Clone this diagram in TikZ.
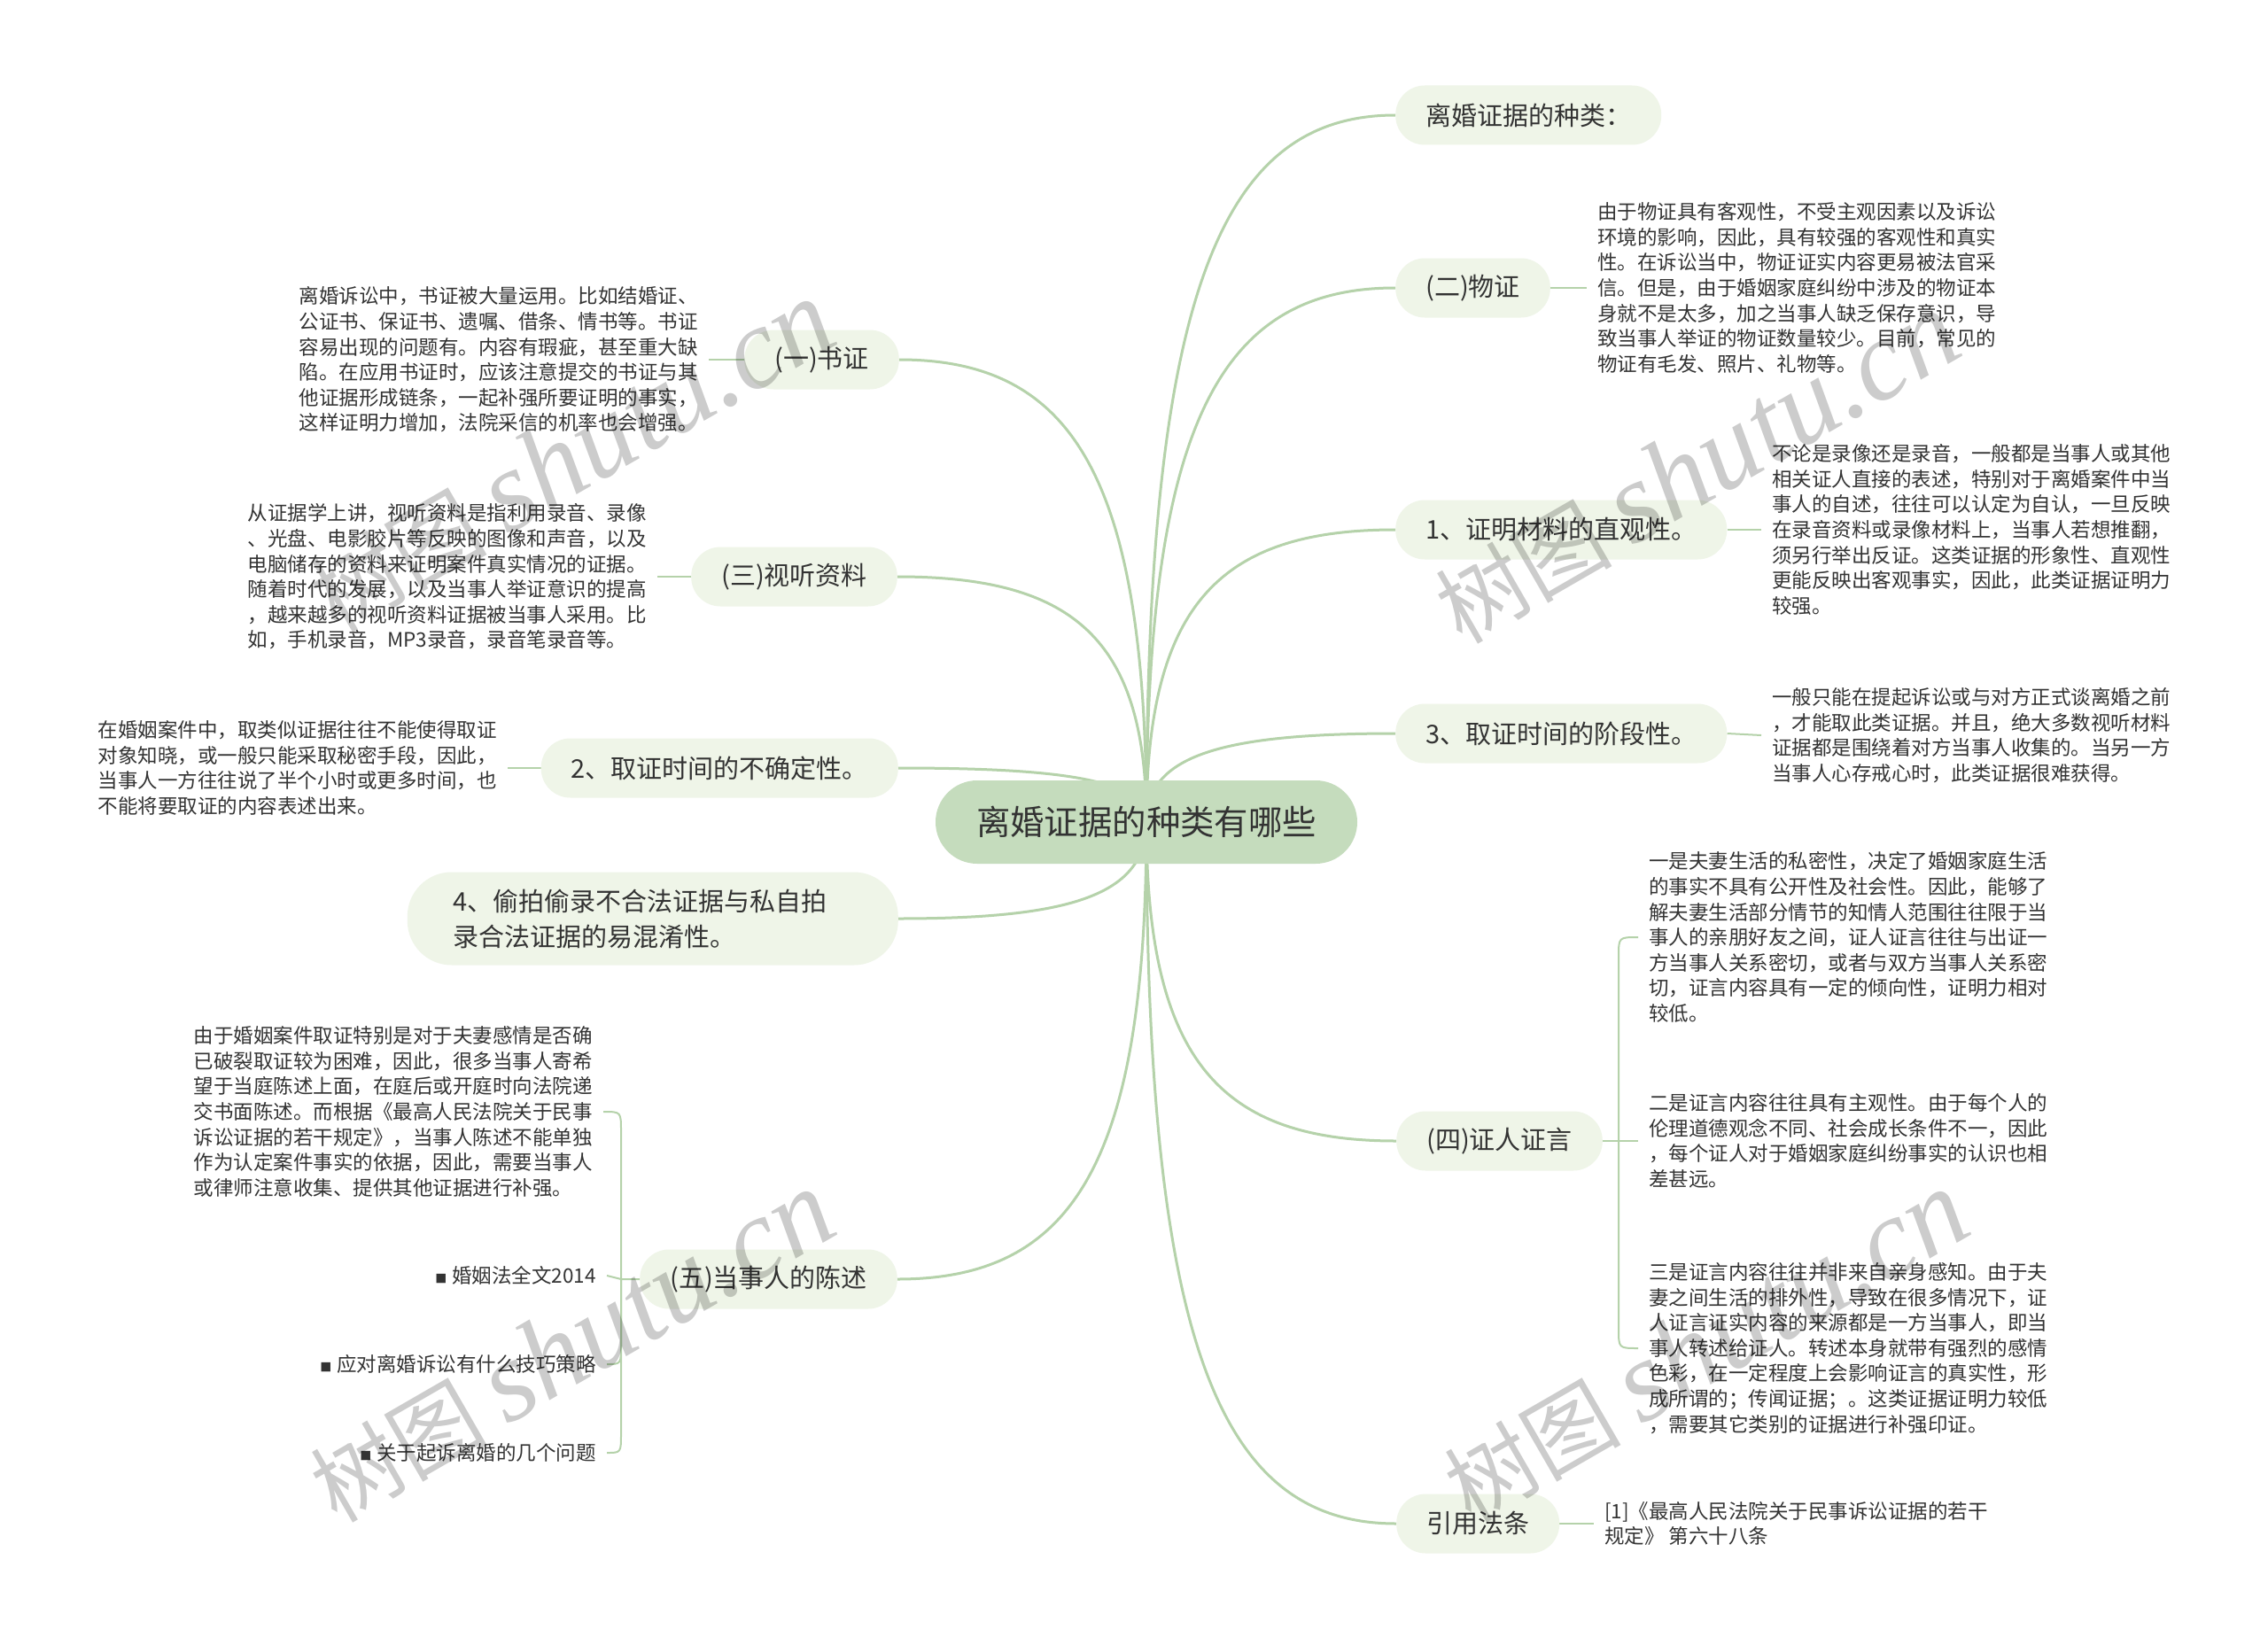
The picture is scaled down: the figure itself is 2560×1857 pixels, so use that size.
\documentclass[tikz,border=0pt]{standalone}
\usepackage{fontspec}
\setmainfont{Noto Sans CJK SC}
\newfontfamily\wmlatin{Liberation Serif}
\definecolor{linec}{HTML}{B5D2AA}
\definecolor{rootc}{HTML}{C5DCBD}
\definecolor{childc}{HTML}{EFF5E8}
\definecolor{txt}{HTML}{333333}
\newcommand\mysq{{\fontsize{13}{13}\selectfont ■}\hspace{6pt}}
\pgfdeclarelayer{bg}
\pgfdeclarelayer{fg}
\pgfsetlayers{bg,main,fg}
\tikzset{
  rootnode/.style={fill=rootc, rounded corners=47pt, minimum height=94pt, inner xsep=46pt, inner ysep=0pt, font=\fontsize{38.4}{46}\selectfont, text=txt},
  childnode/.style={fill=childc, rounded corners=33pt, minimum height=67pt, inner xsep=34pt, inner ysep=0pt, font=\fontsize{29}{40}\selectfont, text=txt, align=left},
  detail/.style={font=\fontsize{22.5}{28.6}\selectfont, text=txt, align=left, inner xsep=12pt, inner ysep=0pt},
  branch/.style={draw=linec, line width=3pt},
  twig/.style={draw=linec, line width=2pt},
  wm/.style={text=black, opacity=0.2, rotate=30, inner sep=0pt},
}
\begin{document}
\begin{tikzpicture}[x=1pt,y=-1pt]
\useasboundingbox (0,0) rectangle (2560,1857);
\begin{pgfonlayer}{bg}
\fill[white] (0,0) rectangle (2560,1857);
\end{pgfonlayer}

\node[rootnode] (root) at (1294,928) {离婚证据的种类有哪些};

% right side
\node[childnode, anchor=west] (a) at (1575,130) {离婚证据的种类：};
\node[childnode, anchor=west] (b) at (1575,325) {(二)物证};
\node[detail, anchor=west] (bt) at (1791,325) {由于物证具有客观性，不受主观因素以及诉讼\\环境的影响，因此，具有较强的客观性和真实\\性。在诉讼当中，物证证实内容更易被法官采\\信。但是，由于婚姻家庭纠纷中涉及的物证本\\身就不是太多，加之当事人缺乏保存意识，导\\致当事人举证的物证数量较少。目前，常见的\\物证有毛发、照片、礼物等。};

\node[childnode, anchor=west] (c) at (1575,598) {1、证明材料的直观性。};
\node[detail, anchor=west] (ct) at (1988,598) {不论是录像还是录音，一般都是当事人或其他\\相关证人直接的表述，特别对于离婚案件中当\\事人的自述，往往可以认定为自认，一旦反映\\在录音资料或录像材料上，当事人若想推翻，\\须另行举出反证。这类证据的形象性、直观性\\更能反映出客观事实，因此，此类证据证明力\\较强。};

\node[childnode, anchor=west] (d) at (1575,828) {3、取证时间的阶段性。};
\node[detail, anchor=west] (dt) at (1988,830) {一般只能在提起诉讼或与对方正式谈离婚之前\\，才能取此类证据。并且，绝大多数视听材料\\证据都是围绕着对方当事人收集的。当另一方\\当事人心存戒心时，此类证据很难获得。};

\node[childnode, anchor=west] (e) at (1576,1288) {(四)证人证言};
\node[detail, anchor=west] (e1) at (1849,1058) {一是夫妻生活的私密性，决定了婚姻家庭生活\\的事实不具有公开性及社会性。因此，能够了\\解夫妻生活部分情节的知情人范围往往限于当\\事人的亲朋好友之间，证人证言往往与出证一\\方当事人关系密切，或者与双方当事人关系密\\切，证言内容具有一定的倾向性，证明力相对\\较低。};
\node[detail, anchor=west] (e2) at (1849,1288) {二是证言内容往往具有主观性。由于每个人的\\伦理道德观念不同、社会成长条件不一，因此\\，每个证人对于婚姻家庭纠纷事实的认识也相\\差甚远。};
\node[detail, anchor=west] (e3) at (1849,1522) {三是证言内容往往并非来自亲身感知。由于夫\\妻之间生活的排外性，导致在很多情况下，证\\人证言证实内容的来源都是一方当事人，即当\\事人转述给证人。转述本身就带有强烈的感情\\色彩，在一定程度上会影响证言的真实性，形\\成所谓的；传闻证据；。这类证据证明力较低\\，需要其它类别的证据进行补强印证。};

\node[childnode, anchor=west] (f) at (1576,1720) {引用法条};
\node[detail, anchor=west] (ft) at (1799,1720) {[1]《最高人民法院关于民事诉讼证据的若干\\规定》 第六十八条};

% left side
\node[childnode, anchor=east] (g) at (1015,406) {(一)书证};
\node[detail, anchor=east] (gt) at (800,406) {离婚诉讼中，书证被大量运用。比如结婚证、\\公证书、保证书、遗嘱、借条、情书等。书证\\容易出现的问题有。内容有瑕疵，甚至重大缺\\陷。在应用书证时，应该注意提交的书证与其\\他证据形成链条，一起补强所要证明的事实，\\这样证明力增加，法院采信的机率也会增强。};

\node[childnode, anchor=east] (h) at (1013,651) {(三)视听资料};
\node[detail, anchor=east] (ht) at (742,651) {从证据学上讲，视听资料是指利用录音、录像\\、光盘、电影胶片等反映的图像和声音，以及\\电脑储存的资料来证明案件真实情况的证据。\\随着时代的发展，以及当事人举证意识的提高\\，越来越多的视听资料证据被当事人采用。比\\如，手机录音，MP3录音，录音笔录音等。};

\node[childnode, anchor=east] (i) at (1014,867) {2、取证时间的不确定性。};
\node[detail, anchor=east] (it) at (573,867) {在婚姻案件中，取类似证据往往不能使得取证\\对象知晓，或一般只能采取秘密手段，因此，\\当事人一方往往说了半个小时或更多时间，也\\不能将要取证的内容表述出来。};

\node[childnode, anchor=east, text width=450pt, inner xsep=52pt, minimum height=105pt, rounded corners=50pt] (j) at (1014,1037) {4、偷拍偷录不合法证据与私自拍\\录合法证据的易混淆性。};

\node[childnode, anchor=east] (k) at (1013,1444) {(五)当事人的陈述};
\node[detail, anchor=east] (kt) at (681,1255) {由于婚姻案件取证特别是对于夫妻感情是否确\\已破裂取证较为困难，因此，很多当事人寄希\\望于当庭陈述上面，在庭后或开庭时向法院递\\交书面陈述。而根据《最高人民法院关于民事\\诉讼证据的若干规定》，当事人陈述不能单独\\作为认定案件事实的依据，因此，需要当事人\\或律师注意收集、提供其他证据进行补强。};
\node[detail, anchor=east] (k1) at (685,1440) {\mysq 婚姻法全文2014};
\node[detail, anchor=east] (k2) at (685,1540) {\mysq 应对离婚诉讼有什么技巧策略};
\node[detail, anchor=east] (k3) at (685,1640) {\mysq 关于起诉离婚的几个问题};

\coordinate (e0) at (1827,1288);
\coordinate (k0) at (701,1444);

\begin{pgfonlayer}{bg}
% main branches
\draw[branch] (root.center) .. controls (1294,330) and (1378,130) .. (a.west);
\draw[branch] (root.center) .. controls (1294,476) and (1378,325) .. (b.west);
\draw[branch] (root.center) .. controls (1294,681) and (1378,598) .. (c.west);
\draw[branch] (root.center) .. controls (1294,853) and (1378,828) .. (d.west);
\draw[branch] (root.center) .. controls (1294,1198) and (1378,1288) .. (e.west);
\draw[branch] (root.center) .. controls (1294,1522) and (1378,1720) .. (f.west);
\draw[branch] (root.center) .. controls (1294,537) and (1210,406) .. (g.east);
\draw[branch] (root.center) .. controls (1294,720) and (1210,651) .. (h.east);
\draw[branch] (root.center) .. controls (1294,882) and (1210,867) .. (i.east);
\draw[branch] (root.center) .. controls (1294,1010) and (1210,1037) .. (j.east);
\draw[branch] (root.center) .. controls (1294,1315) and (1210,1444) .. (k.east);
% sub connectors
\draw[twig] (b.east) -- (bt.west);
\draw[twig] (c.east) -- (ct.west);
\draw[twig] (d.east) -- (dt.west);
\draw[twig] (e.east) -- (e0) -- (e2.west);
\draw[twig] (e0) -- (1827,1080) .. controls (1827,1058) .. (e1.west);
\draw[twig] (e0) -- (1827,1500) .. controls (1827,1522) .. (e3.west);
\draw[twig] (f.east) -- (ft.west);
\draw[twig] (g.west) -- (gt.east);
\draw[twig] (h.west) -- (ht.east);
\draw[twig] (i.west) -- (it.east);
\draw[twig] (k.west) -- (k0) -- (k1.east);
\draw[twig] (k0) -- (701,1277) .. controls (701,1255) .. (kt.east);
\draw[twig] (k0) -- (701,1518) .. controls (701,1540) .. (k2.east);
\draw[twig] (k0) -- (701,1618) .. controls (701,1640) .. (k3.east);
\end{pgfonlayer}

\begin{pgfonlayer}{fg}
\node[wm] (w1) at (645,515) {\fontsize{100}{100}\selectfont 树图 {\wmlatin\itshape\fontsize{130}{130}\selectfont shutu.cn}};
\node[wm] (w2) at (1915,528) {\fontsize{100}{100}\selectfont 树图 {\wmlatin\itshape\fontsize{130}{130}\selectfont shutu.cn}};
\node[wm] (w3) at (645,1520) {\fontsize{100}{100}\selectfont 树图 {\wmlatin\itshape\fontsize{130}{130}\selectfont shutu.cn}};
\node[wm] (w4) at (1925,1520) {\fontsize{100}{100}\selectfont 树图 {\wmlatin\itshape\fontsize{130}{130}\selectfont shutu.cn}};
\end{pgfonlayer}
\end{tikzpicture}
\end{document}
